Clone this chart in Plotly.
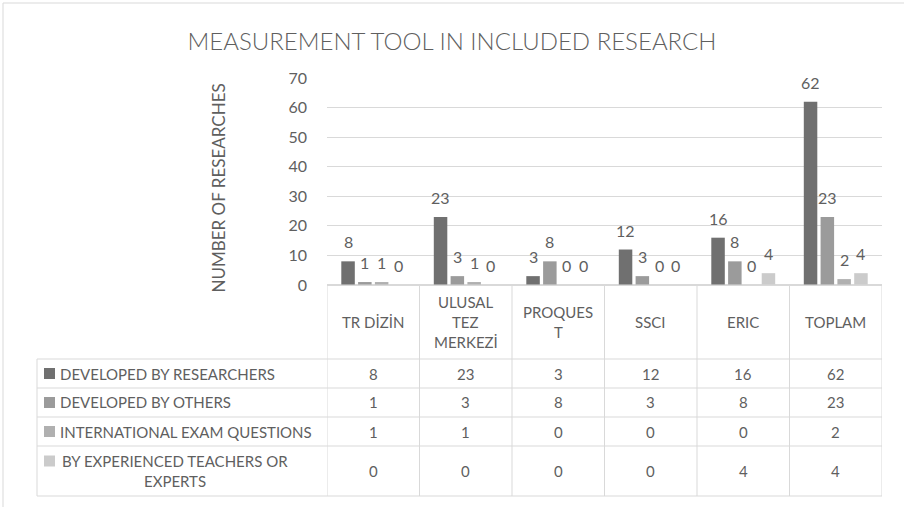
import plotly.graph_objects as go

# ---------------- data ----------------
categories = ["TR DİZİN", "ULUSAL TEZ MERKEZİ", "PROQUEST", "SSCI", "ERIC", "TOPLAM"]
header_labels = [["TR DİZİN"], ["ULUSAL", "TEZ", "MERKEZİ"], ["PROQUES", "T"], ["SSCI"], ["ERIC"], ["TOPLAM"]]

series_names = [
    "DEVELOPED BY RESEARCHERS",
    "DEVELOPED BY OTHERS",
    "INTERNATIONAL EXAM QUESTIONS",
    "BY EXPERIENCED TEACHERS OR EXPERTS",
]
series_table_labels = [
    ["DEVELOPED BY RESEARCHERS"],
    ["DEVELOPED BY OTHERS"],
    ["INTERNATIONAL EXAM QUESTIONS"],
    ["BY EXPERIENCED TEACHERS OR", "EXPERTS"],
]
developed_by_researchers = [8, 23, 3, 12, 16, 62]
developed_by_others = [1, 3, 8, 3, 8, 23]
international_exam_questions = [1, 1, 0, 0, 0, 2]
experienced_teachers_or_experts = [0, 0, 0, 0, 4, 4]
series_values = [developed_by_researchers, developed_by_others,
                 international_exam_questions, experienced_teachers_or_experts]
y_ticks = [0, 10, 20, 30, 40, 50, 60, 70]

title_text = "MEASUREMENT TOOL IN INCLUDED RESEARCH"
y_title = "NUMBER OF RESEARCHES"

# ---------------- styles ----------------
colors = ["#707070", "#9b9b9b", "#b0b0b0", "#cbcbcb"]
TXT = "#5f5f5f"
LINE = "#d9d9d9"
FONT = "Lato, 'Open Sans', sans-serif"
W, H = 904, 507
PL, PR, PT, PB = 327, 882, 78, 285   # plot area in pixels

def px(x):
    return (x - PL) / (PR - PL)

def py(y):
    return (PB - y) / (PB - PT)

BARGAP = 0.2735
BARGROUPGAP = 0.196
n_series = len(series_values)
slot = (1 - BARGAP) / n_series

fig = go.Figure()
for name, vals, col in zip(series_names, series_values, colors):
    fig.add_trace(go.Bar(x=categories, y=vals, name=name, marker_color=col,
                         marker_line_width=0, showlegend=False, hoverinfo="y+name"))

annotations = []
# data labels
for j, vals in enumerate(series_values):
    for i, v in enumerate(vals):
        annotations.append(dict(x=i + (j - (n_series - 1) / 2) * slot, y=v, xref="x", yref="y",
                                text=str(v), showarrow=False, yanchor="bottom", yshift=8,
                                font=dict(size=16, color=TXT, family=FONT)))

shapes = []
def hline(y, x0, x1):
    shapes.append(dict(type="line", xref="paper", yref="paper", x0=px(x0), x1=px(x1),
                       y0=py(y), y1=py(y), line=dict(color=LINE, width=1)))

row_edges = [359, 388, 417, 446, 496]
header_top = PB
LEFT = 37
TFS = 15

# horizontal table lines
hline(header_top, PL, PR)
for ry in row_edges:
    hline(ry, LEFT, PR)
# vertical table lines at category boundaries
for k in range(len(categories) + 1):
    shapes.append(dict(type="line", xref="x", yref="paper", x0=k - 0.5, x1=k - 0.5,
                       y0=py(header_top), y1=py(row_edges[-1]), line=dict(color=LINE, width=1)))
# left border of row-label column
shapes.append(dict(type="line", xref="paper", yref="paper", x0=px(LEFT), x1=px(LEFT),
                   y0=py(row_edges[0]), y1=py(row_edges[-1]), line=dict(color=LINE, width=1)))

# header labels
LINE_SP = 20
hc = (header_top + row_edges[0]) / 2
for i, lines in enumerate(header_labels):
    n = len(lines)
    for k, t in enumerate(lines):
        yy = hc + (k - (n - 1) / 2) * LINE_SP
        annotations.append(dict(x=i, y=py(yy), xref="x", yref="paper", text=t, showarrow=False,
                                yanchor="middle", font=dict(size=TFS, color=TXT, family=FONT)))

# table rows
for j, (lines, vals) in enumerate(zip(series_table_labels, series_values)):
    top, bot = row_edges[j], row_edges[j + 1]
    rc = (top + bot) / 2
    n = len(lines)
    for k, t in enumerate(lines):
        yy = rc + (k - (n - 1) / 2) * LINE_SP
        if n == 1:
            annotations.append(dict(x=px(58), y=py(yy), xref="paper", yref="paper", text=t,
                                    showarrow=False, xanchor="left", yanchor="middle",
                                    font=dict(size=TFS, color=TXT, family=FONT)))
        else:
            annotations.append(dict(x=px(175), y=py(yy), xref="paper", yref="paper", text=t,
                                    showarrow=False, xanchor="center", yanchor="middle",
                                    font=dict(size=TFS, color=TXT, family=FONT)))
    ky = rc - (n - 1) / 2 * LINE_SP
    shapes.append(dict(type="rect", xref="paper", yref="paper", x0=px(44), x1=px(55),
                       y0=py(ky - 5.5), y1=py(ky + 5.5), fillcolor=colors[j], line=dict(width=0)))
    for i, v in enumerate(vals):
        annotations.append(dict(x=i, y=py(rc), xref="x", yref="paper", text=str(v), showarrow=False,
                                yanchor="middle", font=dict(size=TFS, color=TXT, family=FONT)))

# y axis title
annotations.append(dict(x=px(205), y=py(188), xref="paper", yref="paper", text=y_title,
                        textangle=-90, showarrow=False, font=dict(size=17, color=TXT, family=FONT)))

# chart outer border
shapes.append(dict(type="rect", xref="paper", yref="paper", x0=px(3), x1=px(W + 10),
                   y0=py(H + 10), y1=py(3), line=dict(color=LINE, width=1), fillcolor="rgba(0,0,0,0)"))

fig.update_layout(
    width=W, height=H,
    margin=dict(l=PL, r=W - PR, t=PT, b=H - PB, pad=0),
    paper_bgcolor="white", plot_bgcolor="white",
    barmode="group", bargap=BARGAP, bargroupgap=BARGROUPGAP,
    title=dict(text=title_text, x=0.5, xref="container", xanchor="center",
               y=1 - 42 / H, yref="container", yanchor="middle",
               font=dict(size=24, color=TXT, family=FONT, weight=300)),
    xaxis=dict(showticklabels=False, showgrid=False, zeroline=False, showline=False,
               ticks="", range=[-0.5, len(categories) - 0.5]),
    yaxis=dict(range=[0, 70], tickvals=y_ticks, gridcolor=LINE, gridwidth=1,
               zeroline=True, zerolinecolor=LINE, showline=False, ticks="",
               ticklabelstandoff=19,
               tickfont=dict(size=16, color=TXT, family=FONT)),
    annotations=annotations, shapes=shapes,
    font=dict(family=FONT, color=TXT),
)

fig.write_html("out.html", config={"displayModeBar": False},
               post_script="document.body.style.margin='0px';")
